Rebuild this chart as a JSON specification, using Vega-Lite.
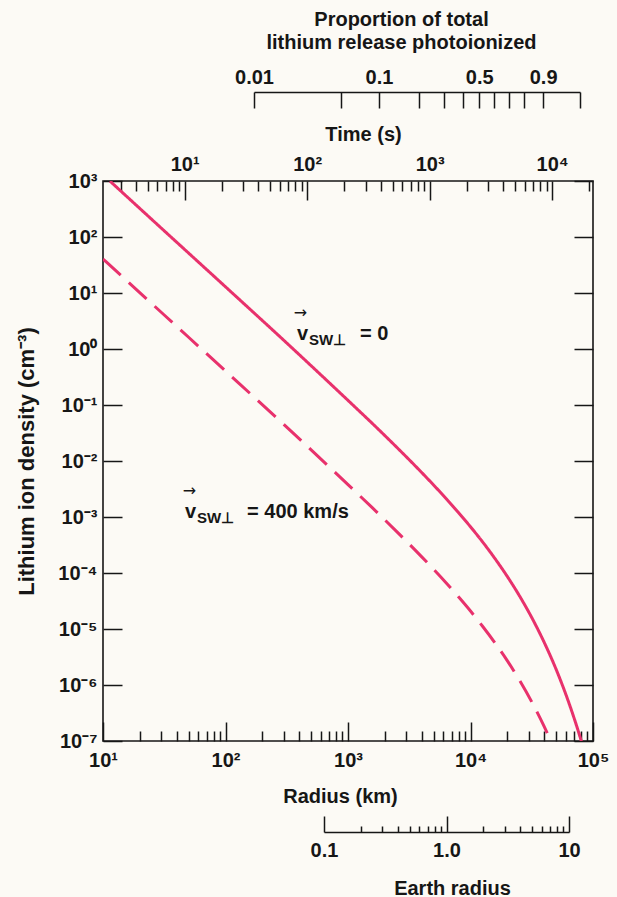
{
  "$schema": "https://vega.github.io/schema/vega-lite/v6.json",
  "width": 490,
  "height": 560,
  "autosize": {"type": "none"},
  "padding": {"left": 103, "top": 181, "right": 24, "bottom": 156},
  "background": "#fcfaf5",
  "config": {
    "font": "Liberation Sans",
    "view": {"stroke": "#161616", "strokeWidth": 1.6},
    "axis": {
      "grid": false,
      "labelFont": "Liberation Sans",
      "titleFont": "Liberation Sans",
      "labelFontSize": 20,
      "titleFontSize": 20,
      "labelFontWeight": "bold",
      "titleFontWeight": "bold",
      "labelColor": "#161616",
      "titleColor": "#161616",
      "tickColor": "#161616",
      "domainColor": "#161616",
      "tickWidth": 1.5,
      "domainWidth": 1.5,
      "labelFlush": false,
      "labelOverlap": false,
      "labelBound": false,
      "minExtent": 0,
      "maxExtent": 400
    }
  },
  "datasets": {
    "curves": [
      {"series": "v0", "r": 11.4, "n": 995},
      {"series": "v0", "r": 31.6, "n": 129},
      {"series": "v0", "r": 100, "n": 12.9},
      {"series": "v0", "r": 316, "n": 1.28},
      {"series": "v0", "r": 1000, "n": 0.1208},
      {"series": "v0", "r": 1585, "n": 0.0465},
      {"series": "v0", "r": 2512, "n": 0.01738},
      {"series": "v0", "r": 3981, "n": 0.00628},
      {"series": "v0", "r": 5012, "n": 0.0037},
      {"series": "v0", "r": 6310, "n": 0.002143},
      {"series": "v0", "r": 7943, "n": 0.001213},
      {"series": "v0", "r": 10000, "n": 0.000668},
      {"series": "v0", "r": 12589, "n": 0.000356},
      {"series": "v0", "r": 15849, "n": 0.0001807},
      {"series": "v0", "r": 19953, "n": 8.69e-5},
      {"series": "v0", "r": 25119, "n": 3.9e-5},
      {"series": "v0", "r": 31623, "n": 1.6e-5},
      {"series": "v0", "r": 39811, "n": 5.87e-6},
      {"series": "v0", "r": 50119, "n": 1.88e-6},
      {"series": "v0", "r": 63096, "n": 5.02e-7},
      {"series": "v0", "r": 70795, "n": 2.4e-7},
      {"series": "v0", "r": 79433, "n": 1.076e-7},
      {"series": "v0", "r": 85114, "n": 6.44e-8},
      {"series": "v400", "r": 10, "n": 40.5},
      {"series": "v400", "r": 31.6, "n": 4.05},
      {"series": "v400", "r": 100, "n": 0.405},
      {"series": "v400", "r": 316, "n": 0.0402},
      {"series": "v400", "r": 1000, "n": 0.003784},
      {"series": "v400", "r": 1585, "n": 0.001452},
      {"series": "v400", "r": 2512, "n": 0.000543},
      {"series": "v400", "r": 3981, "n": 0.0001963},
      {"series": "v400", "r": 6310, "n": 6.7e-5},
      {"series": "v400", "r": 7943, "n": 3.79e-5},
      {"series": "v400", "r": 10000, "n": 2.09e-5},
      {"series": "v400", "r": 12589, "n": 1.11e-5},
      {"series": "v400", "r": 15849, "n": 5.65e-6},
      {"series": "v400", "r": 19953, "n": 2.72e-6},
      {"series": "v400", "r": 25119, "n": 1.22e-6},
      {"series": "v400", "r": 31623, "n": 5.0e-7},
      {"series": "v400", "r": 39811, "n": 1.84e-7},
      {"series": "v400", "r": 44668, "n": 1.06e-7},
      {"series": "v400", "r": 50119, "n": 5.87e-8}
    ],
    "notes": [
      {"part": "main", "label": "v", "r": 383.7, "n": 1.449},
      {"part": "sub", "label": "SW⊥", "r": 480.3, "n": 1.179},
      {"part": "main", "label": "= 0", "r": 1253, "n": 1.449},
      {"part": "main", "label": "v", "r": 46.7, "n": 0.00096},
      {"part": "sub", "label": "SW⊥", "r": 58.5, "n": 0.000782},
      {"part": "main", "label": "= 400 km/s", "r": 150, "n": 0.00096}
    ],
    "arrows": [
      {"label": "→", "r": 360, "n": 3.6},
      {"label": "→", "r": 44.8, "n": 0.00242}
    ]
  },
  "layer": [
    {
      "data": {"name": "curves"},
      "mark": {"type": "line", "clip": true, "interpolate": "monotone", "strokeWidth": 3, "color": "#e8316c"},
      "encoding": {
        "x": {
          "field": "r", "type": "quantitative",
          "scale": {"type": "log", "domain": [10, 100000], "nice": false},
          "axis": {
            "orient": "bottom", "values": [10, 100, 1000, 10000, 100000],
            "tickSize": -19, "labelPadding": 28, "domain": false,
            "labelExpr": "'10' + replace(replace(replace(replace(replace(replace(replace(replace(replace(toString(round(log(datum.value)/LN10)),'-','⁻'),'0','⁰'),'1','¹'),'2','²'),'3','³'),'4','⁴'),'5','⁵'),'6','⁶'),'7','⁷')",
            "title": "Radius (km)", "titlePadding": 16, "titleX": 237
          }
        },
        "y": {
          "field": "n", "type": "quantitative",
          "scale": {"type": "log", "domain": [1e-7, 1000], "nice": false},
          "axis": {
            "orient": "left", "values": [1e-7, 1e-6, 1e-5, 1e-4, 1e-3, 1e-2, 1e-1, 1, 10, 100, 1000],
            "tickSize": -19, "labelPadding": 25, "domain": false,
            "labelExpr": "'10' + replace(replace(replace(replace(replace(replace(replace(replace(replace(toString(round(log(datum.value)/LN10)),'-','⁻'),'0','⁰'),'1','¹'),'2','²'),'3','³'),'4','⁴'),'5','⁵'),'6','⁶'),'7','⁷')",
            "title": "Lithium ion density (cm⁻³)", "titleFontSize": 22, "titlePadding": 19
          }
        },
        "strokeDash": {
          "field": "series", "type": "nominal",
          "scale": {"domain": ["v0", "v400"], "range": [[1, 0], [24, 11]]},
          "legend": null
        }
      }
    },
    {
      "data": {"values": [{"r": 10}, {"r": 100000}]},
      "mark": {"type": "rule", "opacity": 0},
      "encoding": {
        "x": {
          "field": "r", "type": "quantitative",
          "scale": {"type": "log", "domain": [10, 100000], "nice": false},
          "axis": {
            "orient": "bottom",
            "values": [20, 30, 40, 50, 60, 70, 80, 90, 200, 300, 400, 500, 600, 700, 800, 900, 2000, 3000, 4000, 5000, 6000, 7000, 8000, 9000, 20000, 30000, 40000, 50000, 60000, 70000, 80000, 90000],
            "tickSize": -10, "labels": false, "domain": false, "title": null
          }
        }
      }
    },
    {
      "data": {"values": [{"n": 1e-7}, {"n": 1000}]},
      "mark": {"type": "rule", "opacity": 0},
      "encoding": {
        "y": {
          "field": "n", "type": "quantitative",
          "scale": {"type": "log", "domain": [1e-7, 1000], "nice": false},
          "axis": {
            "orient": "right", "values": [1e-7, 1e-6, 1e-5, 1e-4, 1e-3, 1e-2, 1e-1, 1, 10, 100, 1000],
            "tickSize": -19, "labels": false, "domain": false, "title": null
          }
        }
      }
    },
    {
      "data": {"values": [{"t": 2.154}, {"t": 21544}]},
      "mark": {"type": "rule", "opacity": 0},
      "encoding": {
        "x": {
          "field": "t", "type": "quantitative",
          "scale": {"type": "log", "domain": [2.154, 21544], "nice": false},
          "axis": {
            "orient": "top", "values": [10, 100, 1000, 10000],
            "tickSize": -19, "labelPadding": 26, "domain": false,
            "labelExpr": "'10' + replace(replace(replace(replace(replace(replace(replace(replace(replace(toString(round(log(datum.value)/LN10)),'-','⁻'),'0','⁰'),'1','¹'),'2','²'),'3','³'),'4','⁴'),'5','⁵'),'6','⁶'),'7','⁷')",
            "title": "Time (s)", "titlePadding": 10, "titleX": 260
          }
        }
      }
    },
    {
      "data": {"values": [{"t": 2.154}, {"t": 21544}]},
      "mark": {"type": "rule", "opacity": 0},
      "encoding": {
        "x": {
          "field": "t", "type": "quantitative",
          "scale": {"type": "log", "domain": [2.154, 21544], "nice": false},
          "axis": {
            "orient": "top",
            "values": [3, 4, 5, 6, 7, 8, 9, 20, 30, 40, 50, 60, 70, 80, 90, 200, 300, 400, 500, 600, 700, 800, 900, 2000, 3000, 4000, 5000, 6000, 7000, 8000, 9000, 20000],
            "tickSize": -10, "labels": false, "domain": false, "title": null
          }
        }
      }
    },
    {
      "data": {"values": [{"t": 36.68}, {"t": 16809}]},
      "mark": {"type": "rule", "opacity": 0},
      "encoding": {
        "x": {
          "field": "t", "type": "quantitative",
          "scale": {"type": "log", "domain": [36.68, 16809], "range": [151, 477], "nice": false},
          "axis": {
            "orient": "top", "offset": 89,
            "values": [36.68, 187.2, 384.6, 814.5, 1301.9, 1864.5, 2530.0, 3344.5, 4394.5, 5874.5, 8404.4, 16809],
            "tickSize": -16, "labelPadding": 21, "domain": true,
            "labelExpr": "datum.value < 50 ? '0.01' : (datum.value > 380 && datum.value < 390) ? '0.1' : (datum.value > 2500 && datum.value < 2560) ? '0.5' : (datum.value > 8400 && datum.value < 8410) ? '0.9' : ''",
            "title": ["Proportion of total", "lithium release photoionized"],
            "titleLineHeight": 23, "titlePadding": 15, "titleX": 298
          }
        }
      }
    },
    {
      "data": {"values": [{"re": 0.1}, {"re": 10}]},
      "mark": {"type": "rule", "opacity": 0},
      "encoding": {
        "x": {
          "field": "re", "type": "quantitative",
          "scale": {"type": "log", "domain": [0.1, 10], "range": [221, 466], "nice": false},
          "axis": {
            "orient": "bottom", "offset": 91, "values": [0.1, 1, 10],
            "tickSize": -16, "labelPadding": 24, "domain": true,
            "labelExpr": "datum.value < 0.5 ? '0.1' : datum.value < 5 ? '1.0' : '10'",
            "title": "Earth radius", "titlePadding": 18, "titleX": 349
          }
        }
      }
    },
    {
      "data": {"values": [{"re": 0.1}, {"re": 10}]},
      "mark": {"type": "rule", "opacity": 0},
      "encoding": {
        "x": {
          "field": "re", "type": "quantitative",
          "scale": {"type": "log", "domain": [0.1, 10], "range": [221, 466], "nice": false},
          "axis": {
            "orient": "bottom", "offset": 91,
            "values": [0.2, 0.3, 0.4, 0.5, 0.6, 0.7, 0.8, 0.9, 2, 3, 4, 5, 6, 7, 8, 9],
            "tickSize": -6, "labels": false, "domain": false, "title": null
          }
        }
      }
    },
    {
      "data": {"name": "notes"},
      "mark": {"type": "text", "align": "left", "baseline": "alphabetic", "fontWeight": "bold", "color": "#161616", "font": "Liberation Sans"},
      "encoding": {
        "x": {"field": "r", "type": "quantitative", "scale": {"type": "log", "domain": [10, 100000], "nice": false}, "axis": null},
        "y": {"field": "n", "type": "quantitative", "scale": {"type": "log", "domain": [1e-7, 1000], "nice": false}, "axis": null},
        "text": {"field": "label"},
        "size": {"field": "part", "type": "ordinal", "scale": {"domain": ["main", "sub"], "range": [20, 15]}, "legend": null}
      }
    },
    {
      "data": {"name": "arrows"},
      "mark": {"type": "text", "align": "left", "baseline": "alphabetic", "fontSize": 16, "color": "#161616", "font": "DejaVu Sans"},
      "encoding": {
        "x": {"field": "r", "type": "quantitative", "scale": {"type": "log", "domain": [10, 100000], "nice": false}, "axis": null},
        "y": {"field": "n", "type": "quantitative", "scale": {"type": "log", "domain": [1e-7, 1000], "nice": false}, "axis": null},
        "text": {"field": "label"}
      }
    }
  ],
  "resolve": {"scale": {"x": "independent", "y": "independent", "size": "independent", "strokeDash": "independent"}}
}
